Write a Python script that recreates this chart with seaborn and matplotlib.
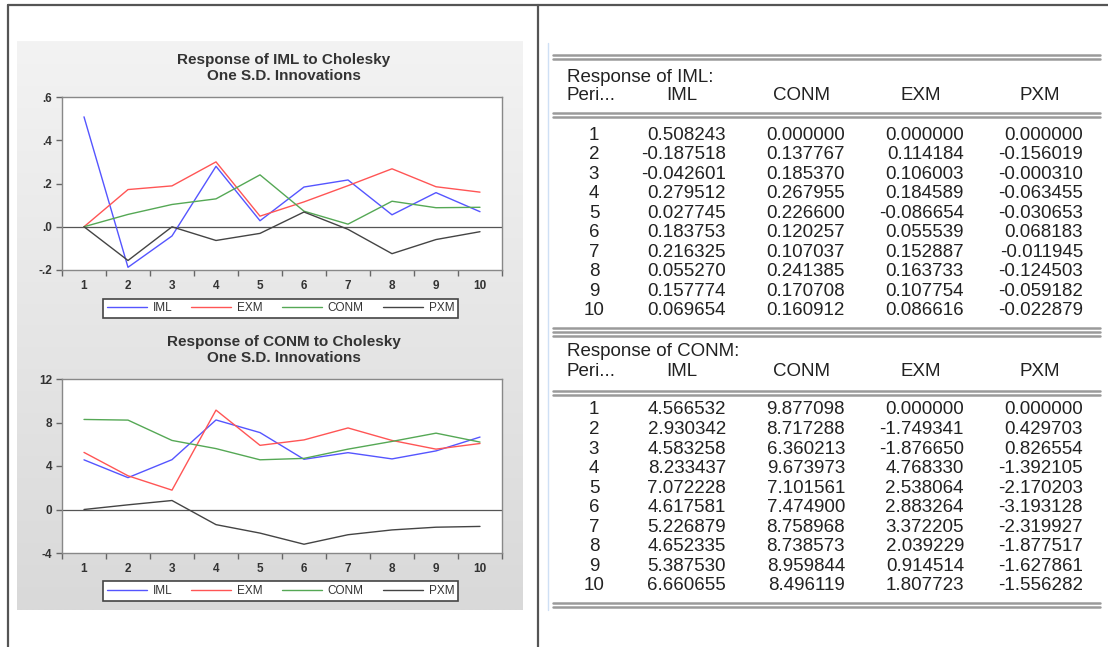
import numpy as np
import pandas as pd
import seaborn as sns
import matplotlib.pyplot as plt
from matplotlib.colors import LinearSegmentedColormap
from matplotlib.lines import Line2D

sns.set_style("ticks")
plt.rcParams['font.family'] = ['Liberation Sans', 'DejaVu Sans']

W, H = 1108, 647

periods = [1, 2, 3, 4, 5, 6, 7, 8, 9, 10]
shocks = ["IML", "EXM", "CONM", "PXM"]
table_cols = ["IML", "CONM", "EXM", "PXM"]
colors = {"IML": "#5555ff", "EXM": "#ff5555", "CONM": "#55a855", "PXM": "#444444"}

# Response of IML (table)
iml_iml = [0.508243, -0.187518, -0.042601, 0.279512, 0.027745, 0.183753, 0.216325, 0.055270, 0.157774, 0.069654]
iml_conm = [0.000000, 0.137767, 0.185370, 0.267955, 0.226600, 0.120257, 0.107037, 0.241385, 0.170708, 0.160912]
iml_exm = [0.000000, 0.114184, 0.106003, 0.184589, -0.086654, 0.055539, 0.152887, 0.163733, 0.107754, 0.086616]
iml_pxm = [0.000000, -0.156019, -0.000310, -0.063455, -0.030653, 0.068183, -0.011945, -0.124503, -0.059182, -0.022879]

# Response of CONM (table)
conm_iml = [4.566532, 2.930342, 4.583258, 8.233437, 7.072228, 4.617581, 5.226879, 4.652335, 5.387530, 6.660655]
conm_conm = [9.877098, 8.717288, 6.360213, 9.673973, 7.101561, 7.474900, 8.758968, 8.738573, 8.959844, 8.496119]
conm_exm = [0.000000, -1.749341, -1.876650, 4.768330, 2.538064, 2.883264, 3.372205, 2.039229, 0.914514, 1.807723]
conm_pxm = [0.000000, 0.429703, 0.826554, -1.392105, -2.170203, -3.193128, -2.319927, -1.877517, -1.627861, -1.556282]

# lines (red / green differ from the table)
g1_exm = [0.0, 0.172, 0.189, 0.300, 0.049, 0.115, 0.190, 0.268, 0.185, 0.160]
g1_conm = [0.0, 0.057, 0.103, 0.129, 0.240, 0.072, 0.012, 0.118, 0.088, 0.090]
g2_exm = [5.25, 3.10, 1.78, 9.14, 5.90, 6.40, 7.50, 6.35, 5.55, 6.07]
g2_conm = [8.28, 8.22, 6.35, 5.60, 4.57, 4.70, 5.55, 6.26, 7.02, 6.20]

g1_ticks = [-0.2, 0.0, 0.2, 0.4, 0.6]
g1_labels = ["-.2", ".0", ".2", ".4", ".6"]
g2_ticks = [-4, 0, 4, 8, 12]
g2_labels = ["-4", "0", "4", "8", "12"]


def fx(x):
    return x / W


def fy(y):
    return 1 - y / H


fig = plt.figure(figsize=(W / 100, H / 100), dpi=100)

# grey graph panel with soft gradient
bg = fig.add_axes([fx(17), fy(610), fx(506), 569 / H], zorder=-5)
grad = np.linspace(0, 1, 256).reshape(-1, 1)
bg.imshow(grad, aspect='auto', cmap=LinearSegmentedColormap.from_list("g", ["#f3f3f3", "#d9d9d9"]))
bg.axis('off')

# outer frame lines
fig.add_artist(Line2D([fx(7.5), 1], [fy(5), fy(5)], color="#555555", lw=1.6))
fig.add_artist(Line2D([fx(7.5), fx(7.5)], [fy(5), 0], color="#555555", lw=1.6))
fig.add_artist(Line2D([fx(538), fx(538)], [fy(5), 0], color="#555555", lw=1.6))
fig.add_artist(Line2D([fx(548), fx(548)], [fy(43), fy(610)], color="#cfe0f5", lw=1))


def draw_graph(top, bottom, title, frame, ylim, ticks, labels, leg_y):
    ax = fig.add_axes([fx(62), fy(bottom), fx(440), (bottom - top) / H])
    ax.set_facecolor("white")
    long = frame.melt(id_vars="Period", var_name="Shock", value_name="Response")
    sns.lineplot(data=long, x="Period", y="Response", hue="Shock", hue_order=shocks,
                 palette=colors, linewidth=1.0, ax=ax)
    ax.axhline(0, color="#555555", lw=0.9, zorder=1)
    ax.set_xlim(periods[0] - 0.5, periods[-1] + 0.5)
    ax.set_ylim(*ylim)
    ax.set_xticks(periods)
    ax.set_xticklabels([str(p) for p in periods])
    ax.set_xticks([p - 0.5 for p in periods] + [periods[-1] + 0.5], minor=True)
    ax.set_yticks(ticks)
    ax.set_yticklabels(labels)
    ax.tick_params(axis='x', which='major', length=0, pad=7, labelsize=8.5, labelcolor="#333333")
    ax.tick_params(axis='x', which='minor', length=4, width=1, color="#666666", direction='out')
    ax.tick_params(axis='y', which='major', length=4, width=1, color="#666666", pad=3,
                   labelsize=8.5, labelcolor="#333333")
    for lab in ax.get_xticklabels() + ax.get_yticklabels():
        lab.set_fontweight('bold')
    for s in ax.spines.values():
        s.set_color("#888888")
        s.set_linewidth(1.0)
    ax.set_xlabel("")
    ax.set_ylabel("")
    fig.text(fx(284), fy(top - 29), title, ha='center', va='center', fontsize=11,
             fontweight='bold', color="#333333", linespacing=1.2)
    sns.move_legend(ax, loc='center', bbox_to_anchor=(fx(280.5), fy(leg_y)),
                    bbox_transform=fig.transFigure, ncol=4, title=None, frameon=True,
                    fancybox=False, fontsize=8.5, handlelength=3.4, handletextpad=0.5,
                    columnspacing=1.6, borderpad=0.3, borderaxespad=0)
    leg = ax.get_legend()
    leg.get_frame().set_edgecolor("#444444")
    leg.get_frame().set_linewidth(1.2)
    leg.get_frame().set_alpha(1)
    for t in leg.get_texts():
        t.set_color("#333333")
    return ax


g1 = pd.DataFrame({"Period": periods, "IML": iml_iml, "EXM": g1_exm, "CONM": g1_conm, "PXM": iml_pxm})
g2 = pd.DataFrame({"Period": periods, "IML": conm_iml, "EXM": g2_exm, "CONM": g2_conm, "PXM": conm_pxm})

draw_graph(97, 270, "Response of IML to Cholesky\nOne S.D. Innovations", g1, (-0.2, 0.6),
           g1_ticks, g1_labels, 308.5)
draw_graph(379, 553, "Response of CONM to Cholesky\nOne S.D. Innovations", g2, (-4, 12),
           g2_ticks, g2_labels, 591)


def hline(y):
    fig.add_artist(Line2D([fx(553), fx(1100)], [fy(y), fy(y)], color="#9a9a9a", lw=1.8))


col_center = [682, 802, 921, 1040]
col_right = [726, 845, 964, 1083]
fs = 13.5


def draw_table(name, cols, title_y, lines):
    for y in lines:
        hline(y)
    fig.text(fx(567), fy(title_y), f"Response of {name}:", ha='left', va='center', fontsize=fs, color="#222222")
    fig.text(fx(567), fy(title_y + 19), "Peri...", ha='left', va='center', fontsize=fs, color="#222222")
    for c, x in zip(table_cols, col_center):
        fig.text(fx(x), fy(title_y + 19), c, ha='center', va='center', fontsize=fs, color="#222222")
    row0 = title_y + 58
    for i, p in enumerate(periods):
        y = row0 + i * 19.55
        fig.text(fx(594), fy(y), str(p), ha='center', va='center', fontsize=fs, color="#222222")
        for vals, x in zip(cols, col_right):
            fig.text(fx(x), fy(y), f"{vals[i]:.6f}", ha='right', va='center', fontsize=fs, color="#222222")


draw_table("IML", [iml_iml, iml_conm, iml_exm, iml_pxm], 77, [55, 59, 113, 117, 328, 332])
draw_table("CONM", [conm_iml, conm_conm, conm_exm, conm_pxm], 352, [336, 391, 395, 603, 607])

fig.savefig("out.png", dpi=100)
